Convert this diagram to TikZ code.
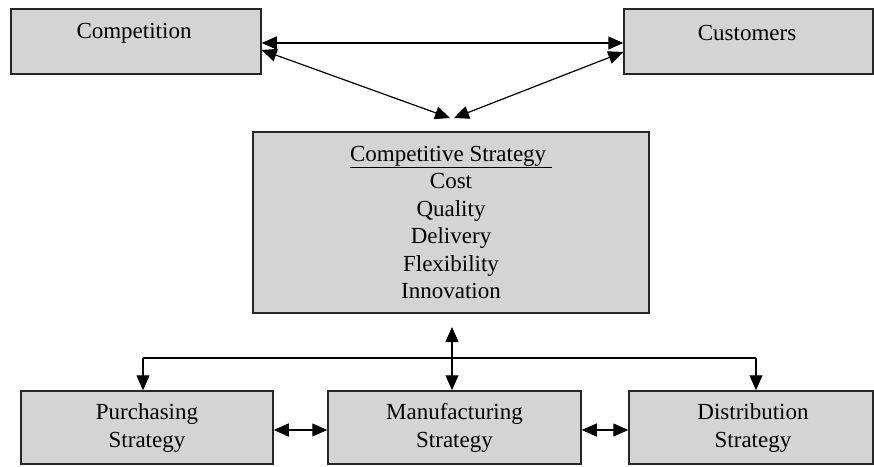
\documentclass[tikz,border=0pt]{standalone}
\usepackage{fontspec}
\setmainfont{Liberation Serif}
\usetikzlibrary{arrows.meta}

\begin{document}
\begin{tikzpicture}[
    x=1pt, y=-1pt,
    font=\fontsize{23}{27.5}\selectfont,
    box/.style={draw=black!85, line width=1.5pt, fill=black!17, inner sep=0pt},
    lbl/.style={inner sep=0pt, align=center},
    link/.style={line width=1.2pt, black},
    tip/.style={-{Triangle[length=15pt,width=13pt]}},
    tips/.style={{Triangle[length=15pt,width=13pt]}-{Triangle[length=15pt,width=13pt]}},
  ]
  \useasboundingbox (0,0) rectangle (874,466);

  % top row: environment
  \node[box, minimum width=250pt, minimum height=65pt] (comp) at (136,41.5) {};
  \node[lbl] (compt) at (134,33) {Competition};
  \node[box, minimum width=249pt, minimum height=65pt] (cust) at (748.5,41.5) {};
  \node[lbl] (custt) at (747,33) {Customers};

  % central strategy box
  \node[box, minimum width=396pt, minimum height=181pt, align=center] (cs) at (451,222.5)
    {\underline{Competitive Strategy\ }\\Cost\\Quality\\Delivery\\Flexibility\\Innovation};

  % functional strategies
  \node[box, minimum width=252pt, minimum height=73pt] (purch) at (147,427.5) {};
  \node[lbl] (purcht) at (147,428) {Purchasing\\Strategy};
  \node[box, minimum width=253pt, minimum height=73pt] (mfg) at (454.5,427.5) {};
  \node[lbl] (mfgt) at (454.5,428) {Manufacturing\\Strategy};
  \node[box, minimum width=244pt, minimum height=73pt] (dist) at (751,427.5) {};
  \node[lbl] (distt) at (753,428) {Distribution\\Strategy};

  % links between competition, customers and strategy
  \coordinate (meetL) at (450,118);
  \coordinate (meetR) at (454,118);
  \draw[link, tips] ([yshift=-1.5pt]comp.east) -- ([yshift=-1.5pt]cust.west);
  \draw[link, tips] ([yshift=-8.5pt]comp.east) -- (meetL);
  \draw[link, tips] ([yshift=-10.5pt]cust.west) -- (meetR);

  % distribution bus to functional strategies
  \coordinate (busL) at (143,358);
  \coordinate (busR) at (756,358);
  \coordinate (vtop) at (452,327);
  \draw[link] (busL) -- (busR);
  \draw[link, tip] (busL) -- (busL |- purch.north);
  \draw[link, tip] (busR) -- (busR |- dist.north);
  \draw[link, tips] (vtop) -- (vtop |- mfg.north);

  % links between neighbouring functions
  \draw[link, tips] ([yshift=-2.5pt]purch.east) -- ([yshift=-2.5pt]mfg.west);
  \draw[link, tips] ([yshift=-2.5pt]mfg.east) -- ([yshift=-2.5pt]dist.west);
\end{tikzpicture}
\end{document}
